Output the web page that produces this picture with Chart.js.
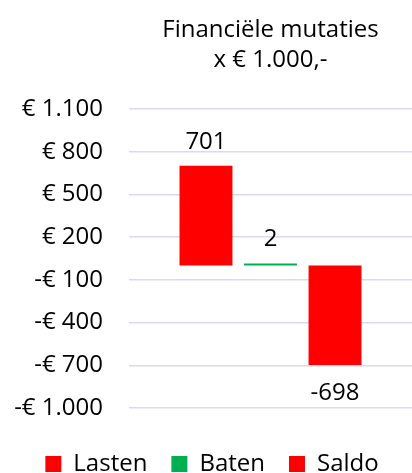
<!DOCTYPE html>
<html>
<head>
<meta charset="utf-8">
<script src="https://cdn.jsdelivr.net/npm/chart.js@4/dist/chart.umd.min.js"></script>
<style>
  html, body { margin: 0; padding: 0; background: #fff; }
  #wrap { width: 412px; height: 473px; }
</style>
</head>
<body>
<div id="wrap"><canvas id="mutaties"></canvas></div>
<script>
// Data (x € 1.000)
const categories = ['Lasten', 'Baten', 'Saldo'];
const values = [701, 2, -698];
const barColors = ['#FF0000', '#00B050', '#FF0000'];
const tickValues = [-1000, -700, -400, -100, 200, 500, 800, 1100];
const titleLines = ['Financiële mutaties', 'x € 1.000,-'];

const fontFamily = '"Open Sans", "Liberation Sans", sans-serif';
const fontSize = 24;

// bedrag als "€ 1.100" of "-€ 100"
const formatEuro = (v) => {
    const abs = Math.abs(v).toLocaleString('nl-NL');
    return (v < 0 ? '-€ ' : '€ ') + abs;
};

// labels boven/onder de staven
const valueLabels = {
    id: 'valueLabels',
    afterDatasetsDraw(chart) {
        const ctx = chart.ctx;
        ctx.save();
        ctx.font = fontSize + 'px ' + fontFamily;
        ctx.fillStyle = '#000';
        ctx.textAlign = 'center';
        ctx.textBaseline = 'middle';
        chart.data.datasets.forEach((ds, i) => {
            const bar = chart.getDatasetMeta(i).data[0];
            const v = ds.data[0];
            const y = v >= 0 ? bar.y - 24 : bar.y + 28;
            ctx.fillText(String(v), bar.x, y);
        });
        ctx.restore();
    }
};

const datasets = categories.map((name, i) => ({
    label: name,
    data: [values[i]],
    backgroundColor: barColors[i],
    borderWidth: 0,
    minBarLength: 2,
    categoryPercentage: 0.684,
    barPercentage: 0.82
}));

new Chart(document.getElementById('mutaties'), {
    type: 'bar',
    data: { labels: [''], datasets },
    options: {
        responsive: true,
        maintainAspectRatio: false,
        animation: false,
        layout: { padding: { left: 12, right: 0, top: 0, bottom: -13 } },
        plugins: {
            title: {
                display: true,
                text: titleLines,
                fullSize: false,
                color: '#000',
                font: { family: fontFamily, size: fontSize, weight: 'normal', lineHeight: 1.25 },
                padding: { top: 15, bottom: 34 }
            },
            legend: {
                position: 'bottom',
                labels: {
                    color: '#000',
                    font: { family: fontFamily, size: fontSize },
                    boxWidth: 16,
                    boxHeight: 16,
                    padding: 24
                }
            },
            tooltip: { enabled: false }
        },
        scales: {
            x: {
                ticks: { display: false },
                grid: { display: true, drawOnChartArea: false, drawTicks: true, tickLength: 20, color: 'rgba(0,0,0,0)' },
                border: { display: false }
            },
            y: {
                min: -1000,
                max: 1100,
                afterBuildTicks: (scale) => {
                    scale.ticks = tickValues.map(v => ({ value: v }));
                },
                afterFit: (scale) => { scale.width = 117; },
                ticks: {
                    color: '#000',
                    padding: 26,
                    font: { family: fontFamily, size: fontSize },
                    callback: (v) => formatEuro(v)
                },
                grid: { color: 'rgb(217,218,242)', lineWidth: 1.5, drawTicks: false },
                border: { display: false }
            }
        }
    },
    plugins: [valueLabels]
});
</script>
</body>
</html>
